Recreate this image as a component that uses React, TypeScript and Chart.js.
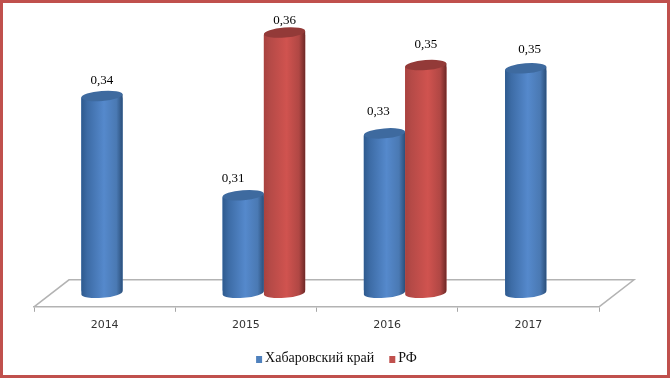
import React, { useEffect, useRef } from "react";
import { Chart, registerables } from "chart.js";

Chart.register(...registerables);

const categories = ["2014", "2015", "2016", "2017"];
const khabarovsk = [0.3405, 0.31, 0.329, 0.349];
const russia = [null, 0.36, 0.35, null];
const seriesNames = ["Хабаровский край", "РФ"];

const BASE_VALUE = 0.28;
const DEPTH_X = 18;
const DEPTH_Y = -14;
const LEGEND_DX = 20;
const LEGEND_DY = -3;
const LEGEND_PADDING = 15;
const LEGEND_FONT_SIZE = 14;
// [dx, dy] of each data label relative to its cylinder top
const labelNudges = [
  [[0, -15], [-10, -17], [-6, -22], [4, -18.5]],
  [null, [0, -12], [0, -20], null],
];
const shades = [
  { stops: ["#2e5a8e", "#3d6ca6", "#5589cc", "#4a79b3", "#2b4f7a"], cap: "#3e6a9f", base: "#4f81bd" },
  { stops: ["#a8423f", "#b54a47", "#d0534f", "#b04744", "#6e2826"], cap: "#933a38", base: "#c0504d" },
];
const stopAt = [0, 0.15, 0.55, 0.85, 1];

const fmt = (v: number) => v.toFixed(2).replace(".", ",");

const scenePlugin = {
  id: "scene",
  afterLayout(chart: any) {
    const l = chart.legend;
    l.left += LEGEND_DX;
    l.right += LEGEND_DX;
    l.top += LEGEND_DY;
    l.bottom += LEGEND_DY;
    l.legendHitBoxes.forEach((h: any) => {
      h.left += LEGEND_DX;
    });
  },
  beforeDraw(chart: any) {
    const { ctx, chartArea: a, width, height } = chart;
    ctx.save();
    ctx.fillStyle = "#ffffff";
    ctx.fillRect(0, 0, width, height);
    ctx.strokeStyle = "#c0504d";
    ctx.lineWidth = 3;
    ctx.strokeRect(1.5, 1.5, width - 3, height - 3);
    ctx.strokeStyle = "#b3b3b3";
    ctx.lineWidth = 1.5;
    ctx.beginPath();
    ctx.moveTo(a.left, a.bottom);
    ctx.lineTo(a.left + 35, a.bottom - 27);
    ctx.lineTo(a.right + 35, a.bottom - 27);
    ctx.lineTo(a.right, a.bottom);
    ctx.stroke();
    ctx.restore();
  },
  beforeDatasetsDraw(chart: any) {
    chart.ctx.save();
    chart.ctx.translate(DEPTH_X, DEPTH_Y);
  },
  afterDatasetsDraw(chart: any) {
    const { ctx } = chart;
    const tilt = -0.08;
    chart.data.datasets.forEach((_: any, di: number) => {
      const s = shades[di];
      chart.getDatasetMeta(di).data.forEach((el: any, i: number) => {
        if (chart.data.datasets[di].data[i] == null) return;
        const { x, y, base, width } = el.getProps(["x", "y", "base", "width"], true);
        const rx = width / 2;
        const ry = 5;
        const lift = rx * Math.sin(tilt);
        const g = ctx.createLinearGradient(x - rx, 0, x + rx, 0);
        s.stops.forEach((c: string, k: number) => g.addColorStop(stopAt[k], c));
        ctx.fillStyle = g;
        ctx.beginPath();
        ctx.moveTo(x - rx, y - lift);
        ctx.lineTo(x + rx, y + lift);
        ctx.ellipse(x, base, rx, ry, tilt, 0, Math.PI);
        ctx.closePath();
        ctx.fill();
        ctx.fillStyle = s.cap;
        ctx.beginPath();
        ctx.ellipse(x, y, rx, ry, tilt, 0, Math.PI * 2);
        ctx.fill();
      });
    });
    ctx.fillStyle = "#000000";
    ctx.font = '13px "Liberation Serif"';
    ctx.textAlign = "center";
    ctx.textBaseline = "middle";
    chart.data.datasets.forEach((ds: any, di: number) => {
      chart.getDatasetMeta(di).data.forEach((el: any, i: number) => {
        const v = ds.data[i];
        const n = labelNudges[di][i];
        if (v == null || !n) return;
        ctx.fillText(fmt(v), el.x + n[0], el.y + n[1]);
      });
    });
    ctx.restore();
  },
  afterDraw(chart: any) {
    const { ctx } = chart;
    const l = chart.legend;
    const top = Math.round(l.top + LEGEND_PADDING + (LEGEND_FONT_SIZE * 1.2 - 7) / 2);
    ctx.save();
    l.legendHitBoxes.forEach((h: any, i: number) => {
      ctx.fillStyle = shades[i].base;
      ctx.fillRect(h.left, top, 6, 7);
    });
    ctx.restore();
  },
};

export default function App() {
  const ref = useRef<HTMLCanvasElement>(null);
  useEffect(() => {
    const barStyle = { clip: false, base: BASE_VALUE, borderRadius: 3, borderSkipped: false };
    const chart = new Chart(ref.current as HTMLCanvasElement, {
      type: "bar",
      data: {
        labels: categories,
        datasets: [
          { label: seriesNames[0], data: khabarovsk, backgroundColor: shades[0].base, ...barStyle },
          { label: seriesNames[1], data: russia, backgroundColor: shades[1].base, ...barStyle },
        ] as any,
      },
      options: {
        animation: false,
        responsive: false,
        datasets: { bar: { categoryPercentage: 0.585, barPercentage: 1 } },
        layout: { padding: { left: 34, right: 71, top: 14, bottom: 0 } },
        plugins: {
          title: { display: false },
          tooltip: { enabled: false },
          legend: {
            position: "bottom",
            labels: {
              boxWidth: 2,
              boxHeight: 7,
              padding: LEGEND_PADDING,
              color: "#111111",
              font: { family: '"Liberation Serif"', size: LEGEND_FONT_SIZE },
              generateLabels: (chart: any) =>
                (Chart.defaults.plugins.legend.labels as any).generateLabels(chart).map((item: any) => ({
                  ...item,
                  fillStyle: "transparent",
                  strokeStyle: "transparent",
                  lineWidth: 0,
                })),
            },
          },
        },
        scales: {
          x: {
            grid: { drawOnChartArea: false, color: "#a6a6a6", tickLength: 5 },
            border: { color: "#b3b3b3", width: 1.5 },
            ticks: { color: "#333333", font: { family: '"DejaVu Sans"', size: 11 }, padding: 7 },
          },
          y: { display: false, min: BASE_VALUE, max: 0.37 },
        },
      } as any,
      plugins: [scenePlugin],
    });
    return () => chart.destroy();
  }, []);
  return (
    <div style={{ position: "absolute", left: 0, top: 0, width: 670, height: 378 }}>
      <canvas ref={ref} width={670} height={378} style={{ display: "block" }} />
    </div>
  );
}
